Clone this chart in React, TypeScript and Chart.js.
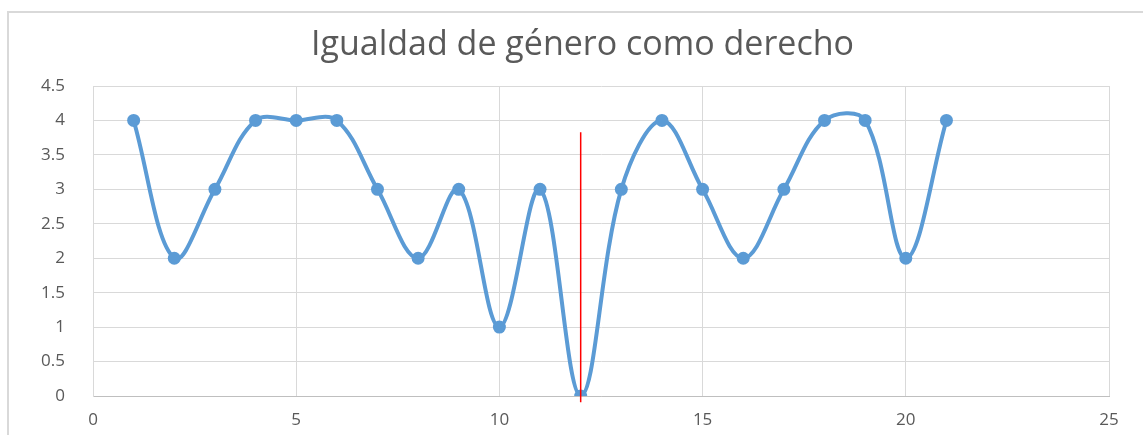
import React, { useEffect, useRef } from "react";
import { Chart, registerables } from "chart.js";

Chart.register(...registerables);

const chartTitle = "Igualdad de género como derecho";
const xValues = [1, 2, 3, 4, 5, 6, 7, 8, 9, 10, 11, 12, 13, 14, 15, 16, 17, 18, 19, 20, 21];
const yValues = [4, 2, 3, 4, 4, 4, 3, 2, 3, 1, 3, 0, 3, 4, 3, 2, 3, 4, 4, 2, 4];
const markerX = [12, 12];
const markerY = [-0.09, 3.83];
const xMin = 0;
const xMax = 25;
const xStep = 5;
const yMin = 0;
const yMax = 4.5;
const yStep = 0.5;

const titlePlugin = {
  id: "offsetTitle",
  afterDraw(chart: any) {
    const ctx = chart.ctx;
    ctx.save();
    ctx.font = "normal 34px 'Open Sans', sans-serif";
    ctx.fillStyle = "#595959";
    ctx.textAlign = "center";
    ctx.textBaseline = "middle";
    ctx.fillText(chartTitle, chart.width / 2 + 11, 45);
    ctx.restore();
  },
};

export default function App() {
  const ref = useRef<HTMLCanvasElement | null>(null);

  useEffect(() => {
    if (!ref.current) return;
    const seriesPts = xValues.map((x, i) => ({ x, y: yValues[i] }));
    const markerPts = markerX.map((x, i) => ({ x, y: markerY[i] }));
    const chart = new Chart(ref.current, {
      type: "scatter",
      data: {
        datasets: [
          {
            label: "marker",
            data: markerPts,
            showLine: true,
            borderColor: "#ff0000",
            borderWidth: 1.5,
            pointRadius: 0,
            clip: false as any,
            order: 0,
          },
          {
            label: "serie",
            data: seriesPts,
            showLine: true,
            tension: 0.36,
            borderColor: "#5b9bd5",
            backgroundColor: "#5b9bd5",
            borderWidth: 4,
            pointRadius: 6.5,
            pointBorderWidth: 0,
            pointBackgroundColor: "#5b9bd5",
            order: 1,
          },
        ],
      },
      plugins: [titlePlugin],
      options: {
        animation: false,
        responsive: true,
        maintainAspectRatio: false,
        layout: { padding: { left: 0, right: 34, top: 86, bottom: 0 } },
        plugins: {
          legend: { display: false },
          tooltip: { enabled: false },
          title: { display: false },
        },
        scales: {
          x: {
            type: "linear",
            min: xMin,
            max: xMax,
            ticks: {
              stepSize: xStep,
              color: "#595959",
              padding: 14,
              font: { family: "'Open Sans', sans-serif", size: 17 },
            },
            grid: { color: "#d9d9d9", drawTicks: false, lineWidth: 1 },
            border: { color: "#bfbfbf", width: 1 },
            afterFit: (scale: any) => {
              scale.height = 39;
            },
          },
          y: {
            type: "linear",
            min: yMin,
            max: yMax,
            ticks: {
              stepSize: yStep,
              color: "#595959",
              padding: 28,
              font: { family: "'Open Sans', sans-serif", size: 17 },
              callback: (v: any) => String(Number(v)),
            },
            grid: { color: "#d9d9d9", drawTicks: false, lineWidth: 1 },
            border: { color: "#d9d9d9", width: 1 },
            afterFit: (scale: any) => {
              scale.width = 93;
            },
          },
        },
      },
    });
    return () => chart.destroy();
  }, []);

  return (
    <div style={{ position: "fixed", left: 0, top: 0, width: 1143, height: 435, background: "#ffffff" }}>
      <div
        style={{
          position: "absolute",
          left: 7,
          top: 11,
          right: -5,
          bottom: -5,
          borderLeft: "2px solid #d9d9d9",
          borderTop: "2px solid #d9d9d9",
        }}
      />
      <div style={{ position: "absolute", left: 0, top: 0, width: 1143, height: 435 }}>
        <canvas ref={ref} />
      </div>
    </div>
  );
}
